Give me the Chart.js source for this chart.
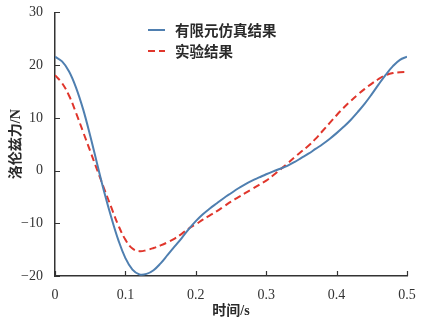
<!DOCTYPE html>
<html>
<head>
<meta charset="utf-8">
<script src="https://cdn.jsdelivr.net/npm/chart.js@4.4.0/dist/chart.umd.min.js"></script>
<style>
  html, body { margin: 0; padding: 0; background: #fff; }
  #wrap { width: 421px; height: 326px; }
</style>
</head>
<body>
<div id="wrap"><canvas id="chart" width="421" height="326"></canvas></div>
<script>
// time samples, s
const times = [0, 0.01, 0.02, 0.03, 0.04, 0.05, 0.06, 0.07, 0.08, 0.09,
    0.10, 0.11, 0.12, 0.13, 0.14, 0.15, 0.16, 0.17, 0.18, 0.19,
    0.20, 0.21, 0.22, 0.23, 0.24, 0.25, 0.26, 0.27, 0.28, 0.29,
    0.30, 0.31, 0.32, 0.33, 0.34, 0.35, 0.36, 0.37, 0.38, 0.39,
    0.40, 0.41, 0.42, 0.43, 0.44, 0.45, 0.46, 0.47, 0.48, 0.49, 0.50];

// finite element simulation, N (solid)
const simForce = [21.6, 20.7, 18.8, 15.7, 11.6, 6.6, 1.2, -4.1, -8.9, -13.2,
    -16.6, -18.8, -19.7, -19.6, -18.9, -17.6, -16.0, -14.4, -12.8, -11.1,
    -9.6, -8.3, -7.2, -6.2, -5.2, -4.3, -3.4, -2.6, -1.9, -1.3,
    -0.7, -0.15, 0.35, 0.9, 1.6, 2.4, 3.2, 4.1, 5.0, 6.0,
    7.1, 8.3, 9.6, 11.1, 12.7, 14.5, 16.4, 18.2, 19.8, 21.0, 21.6];

// experiment, N (dashed)
const expForce = [18.1, 16.6, 14.2, 10.9, 7.3, 3.7, 0.1, -3.5, -7.0, -10.4,
    -13.1, -14.8, -15.3, -15.1, -14.7, -14.2, -13.6, -12.9, -12.0, -11.0,
    -10.2, -9.3, -8.5, -7.7, -6.8, -5.9, -5.1, -4.3, -3.5, -2.7,
    -1.9, -0.9, 0.2, 1.3, 2.5, 3.6, 4.7, 6.0, 7.5, 9.0,
    10.5, 11.9, 13.2, 14.4, 15.5, 16.5, 17.4, 18.1, 18.5, 18.65, 18.7];

const seriesNames = ["有限元仿真结果", "实验结果"];
const xTicks = [0, 0.1, 0.2, 0.3, 0.4, 0.5];
const yTicks = [-20, -10, 0, 10, 20, 30];

const FONT = "'Liberation Serif', 'Noto Sans CJK SC', serif";
const AXIS = "#333";

function pairs(xs, ys) {
    return xs.map((x, i) => ({x, y: ys[i]}));
}

// ticks point into the plot, so draw them ourselves
const innerTicks = {
    id: "innerTicks",
    afterDraw(chart) {
        const {ctx, chartArea: a, scales: {x, y}} = chart;
        ctx.save();
        ctx.strokeStyle = AXIS;
        ctx.lineWidth = 1.2;
        ctx.beginPath();
        for (const v of xTicks) {
            const px = Math.round(x.getPixelForValue(v)) + 0.5;
            ctx.moveTo(px, a.bottom);
            ctx.lineTo(px, a.bottom - 5);
        }
        for (const v of yTicks) {
            const py = Math.round(y.getPixelForValue(v)) + 0.5;
            ctx.moveTo(a.left, py);
            ctx.lineTo(a.left + 5, py);
        }
        ctx.stroke();
        ctx.restore();
    }
};

const innerLegend = {
    id: "innerLegend",
    afterDraw(chart) {
        const {ctx} = chart;
        ctx.save();
        ctx.font = "bold 14.5px 'Noto Sans CJK SC'";
        ctx.textBaseline = "middle";
        chart.data.datasets.forEach((ds, i) => {
            const yy = 30 + i * 21;
            ctx.strokeStyle = ds.borderColor;
            ctx.lineWidth = ds.borderWidth;
            ctx.setLineDash(ds.borderDash || []);
            ctx.beginPath();
            ctx.moveTo(148, yy);
            ctx.lineTo(165, yy);
            ctx.stroke();
            ctx.setLineDash([]);
            ctx.fillStyle = "#2a2a2a";
            ctx.fillText(ds.label, 175, yy);
        });
        ctx.restore();
    }
};

new Chart(document.getElementById("chart"), {
    type: "line",
    data: {
        datasets: [{
            label: seriesNames[0],
            data: pairs(times, simForce),
            borderColor: "#4f7fb0",
            borderWidth: 2,
            pointRadius: 0,
            tension: 0.4
        }, {
            label: seriesNames[1],
            data: pairs(times, expForce),
            borderColor: "#e0362c",
            borderWidth: 2,
            borderDash: [7, 4],
            pointRadius: 0,
            tension: 0.4
        }]
    },
    options: {
        responsive: false,
        animation: false,
        layout: {padding: {top: 12, right: 14, left: 0, bottom: 0}},
        plugins: {legend: {display: false}, tooltip: {enabled: false}},
        scales: {
            x: {
                type: "linear",
                min: 0, max: 0.5,
                afterBuildTicks: s => { s.ticks = xTicks.map(value => ({value})); },
                afterFit: s => { s.height = 50; },
                grid: {display: false},
                border: {display: true, color: AXIS, width: 1.5},
                ticks: {
                    padding: 3,
                    color: "#333",
                    font: {family: FONT, size: 14},
                    callback: v => String(v)
                },
                title: {
                    display: true, text: "时间/s", color: "#2a2a2a",
                    font: {family: FONT, size: 14, weight: "bold"},
                    padding: {top: 0, bottom: 6}
                }
            },
            y: {
                min: -20, max: 30,
                afterBuildTicks: s => { s.ticks = yTicks.map(value => ({value})); },
                afterFit: s => { s.width = 55; },
                grid: {display: false},
                border: {display: true, color: AXIS, width: 1.5},
                ticks: {
                    padding: 4,
                    color: "#333",
                    font: {family: FONT, size: 14},
                    callback: v => String(v).replace("-", "\u2212")
                },
                title: {
                    display: true, text: "洛伦兹力/N", color: "#2a2a2a",
                    font: {family: FONT, size: 14, weight: "bold"},
                    padding: {top: 8, bottom: 0}
                }
            }
        }
    },
    plugins: [innerTicks, innerLegend]
});
</script>
</body>
</html>
